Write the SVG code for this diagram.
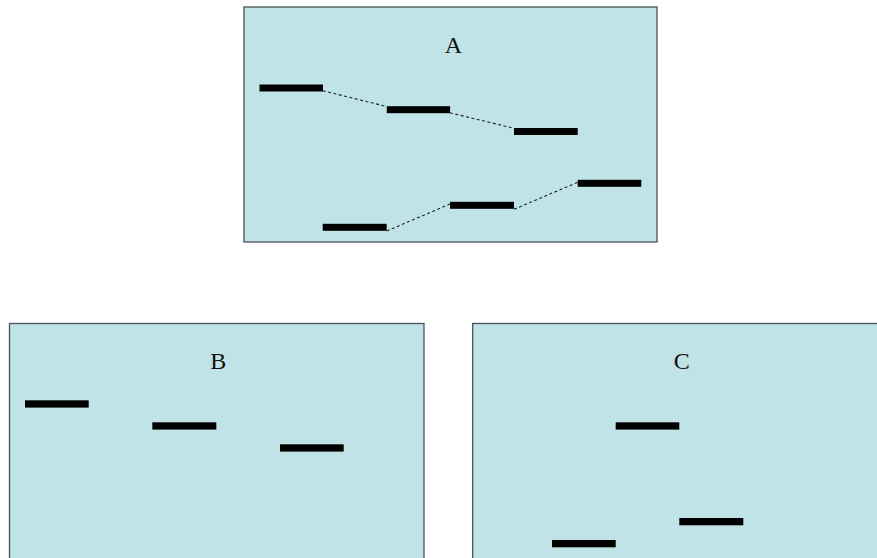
<svg xmlns="http://www.w3.org/2000/svg" width="877" height="558" viewBox="0 0 877 558">
<style>
.panel{fill:#bfe3e6;stroke:#4a5356;stroke-width:1.3}
.bar{fill:#000}
.lbl{font-family:"Liberation Serif","Times New Roman",serif;font-size:24px;fill:#111;text-anchor:middle}
.dash{stroke:#222;stroke-width:1.1;stroke-dasharray:3,2.5;fill:none}
</style>
<rect width="877" height="558" fill="#fff"/>
<g id="panelA">
<rect class="panel" x="244" y="7" width="413" height="235"/>
<text class="lbl" x="453.5" y="52.5">A</text>
<rect class="bar" x="259.5" y="84.5" width="63.5" height="7"/>
<rect class="bar" x="386.8" y="106.2" width="63.3" height="7"/>
<rect class="bar" x="514" y="128" width="63.7" height="7"/>
<rect class="bar" x="577.7" y="179.8" width="63.6" height="7"/>
<rect class="bar" x="450" y="201.8" width="64" height="7"/>
<rect class="bar" x="322.7" y="223.8" width="64" height="7"/>
</g>
<g id="connectors">
<line class="dash" x1="322.7" y1="90.7" x2="386.7" y2="106.5"/>
<line class="dash" x1="450" y1="112.8" x2="514" y2="128.3"/>
<line class="dash" x1="386.7" y1="231" x2="450" y2="204"/>
<line class="dash" x1="514" y1="209.3" x2="577.7" y2="182.3"/>
</g>
<g id="panelB">
<rect class="panel" x="9.5" y="323.5" width="414.5" height="250"/>
<text class="lbl" x="218.3" y="369">B</text>
<rect class="bar" x="25" y="400.3" width="63.7" height="7.3"/>
<rect class="bar" x="152.3" y="422.3" width="64" height="7.3"/>
<rect class="bar" x="280" y="444.3" width="63.7" height="7.3"/>
</g>
<g id="panelC">
<rect class="panel" x="472.7" y="323.5" width="420" height="250"/>
<text class="lbl" x="681.7" y="368.7">C</text>
<rect class="bar" x="615.7" y="422.3" width="63.6" height="7.3"/>
<rect class="bar" x="679.3" y="518" width="64" height="7.3"/>
<rect class="bar" x="552" y="540" width="63.7" height="7.3"/>
</g>
</svg>
